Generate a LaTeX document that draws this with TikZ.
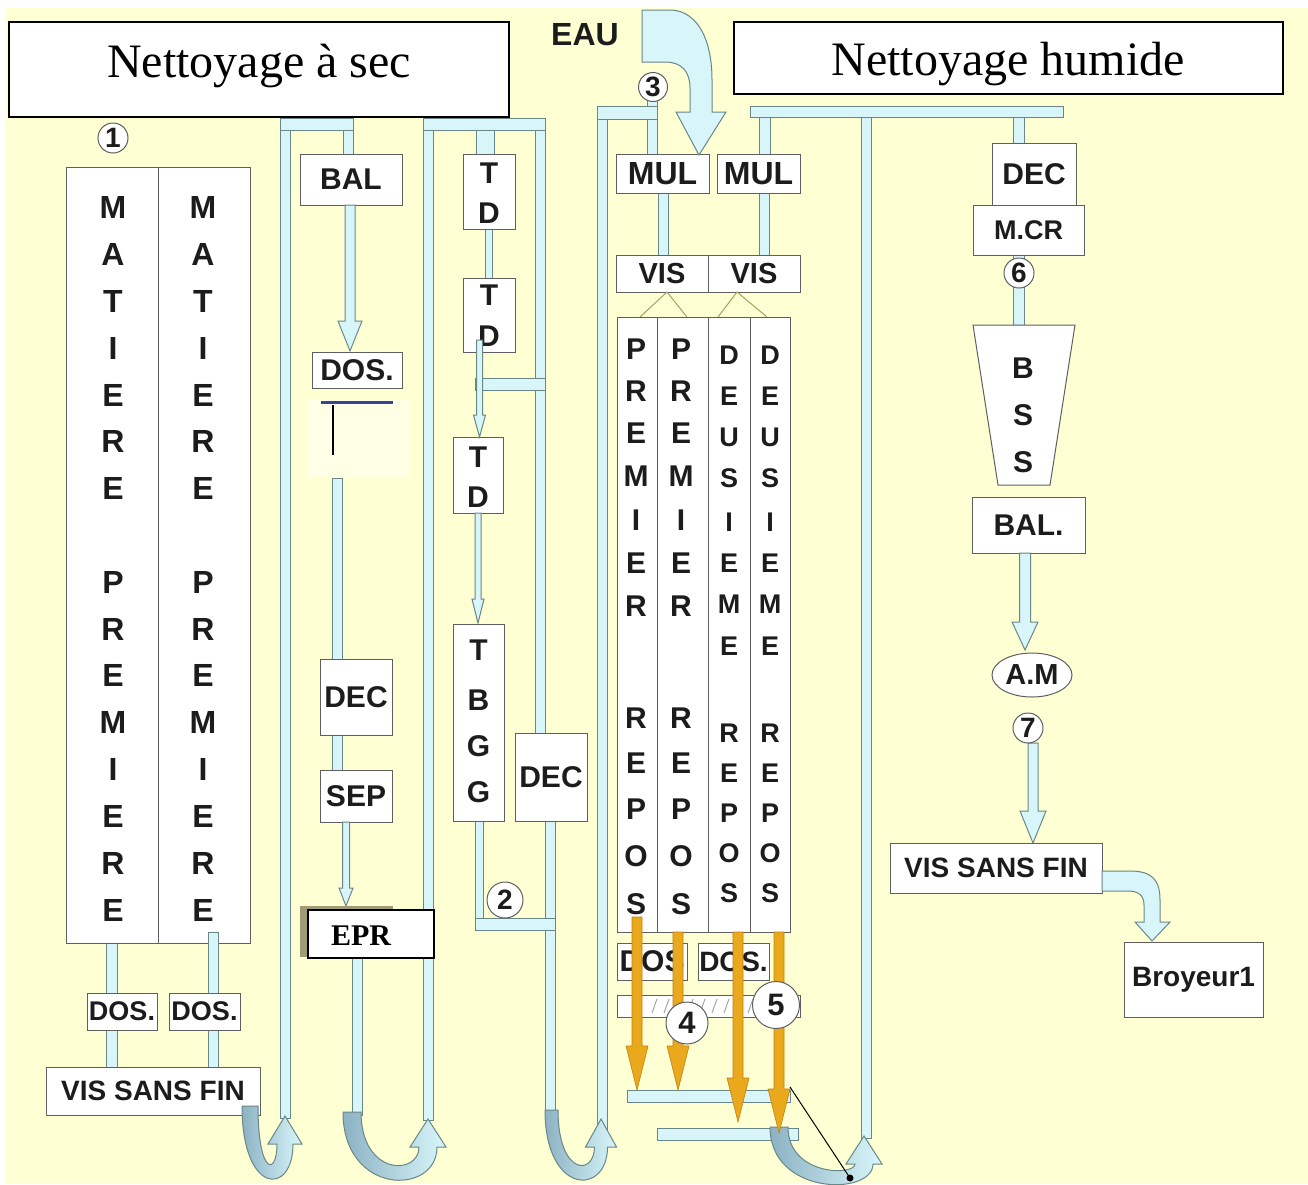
\documentclass[tikz,border=0pt]{standalone}
\usepackage{fontspec}
\setmainfont{Liberation Serif}
\setsansfont{Liberation Sans}
\usetikzlibrary{shapes.geometric}
\definecolor{bg}{RGB}{255,255,212}
\definecolor{bglight}{RGB}{255,255,230}
\definecolor{pipefill}{RGB}{216,246,250}
\definecolor{pipeline}{RGB}{105,135,135}
\definecolor{boxline}{RGB}{95,95,95}
\definecolor{txt}{RGB}{28,28,28}
\definecolor{orangeA}{RGB}{234,168,28}
\definecolor{orangeD}{RGB}{190,130,15}
\definecolor{udark}{RGB}{140,178,195}
\definecolor{navy}{RGB}{55,65,150}
\definecolor{shadowc}{RGB}{160,155,118}
\definecolor{olivel}{RGB}{165,160,95}
\newcommand\lblf[1]{\sffamily\bfseries\fontsize{#1}{#1}\selectfont}
\newcommand\pv[4]{\filldraw[pipe] ({#1-#4/2},#2) rectangle ({#1+#4/2},#3);}
\newcommand\ph[4]{\filldraw[pipe] (#1,{#3-#4/2}) rectangle (#2,{#3+#4/2});}
\newcommand\dnarrow[6]{\filldraw[pipe] ({#1-#4},#2) -- ({#1-#4},{#3-#6}) -- ({#1-#5},{#3-#6}) -- (#1,#3) -- ({#1+#5},{#3-#6}) -- ({#1+#4},{#3-#6}) -- ({#1+#4},#2) -- cycle;}
\newcommand\oarr[3]{\filldraw[orarr] ({#1-5},#2) -- ({#1-5},{#3-44}) -- ({#1-11},{#3-44}) -- (#1,#3) -- ({#1+11},{#3-44}) -- ({#1+5},{#3-44}) -- ({#1+5},#2) -- cycle;}
\newcommand\uarr[6]{\path[draw=pipeline, line width=1, left color=udark, right color=pipefill] (#1,#3) .. controls (#1,#6) and ({#4+#2/2},#6) .. ({#4+#2/2},{#5+28}) -- ({#4+#2/2+9},{#5+28}) -- (#4,#5) -- ({#4-#2/2-9},{#5+28}) -- ({#4-#2/2},{#5+28}) .. controls ({#4-#2/2},{#6-20}) and ({#1+#2},{#6-20}) .. ({#1+#2},#3) -- cycle;}
\tikzset{
 pipe/.style={fill=pipefill, draw=pipeline, line width=1},
 box/.style={rectangle, draw=boxline, fill=white, line width=1, inner sep=0pt, text=txt, font=\lblf{30}},
 ltr/.style={inner sep=0pt, text=txt, font=\lblf{#1}},
 ltr/.default=30,
 num/.style={circle, draw=boxline, fill=white, line width=1, inner sep=0pt, text=txt, font=\lblf{#1}},
 num/.default=28,
 orarr/.style={fill=orangeA, draw=orangeD, line width=0.6},
 titlebox/.style={draw=black, fill=white, line width=2}
}
\begin{document}
\begin{tikzpicture}[x=1pt,y=-1pt]
\useasboundingbox (0,0) rectangle (1308,1184);
\fill[white] (0,0) rectangle (1308,1184);
\fill[bg] (6,8) rectangle (1308,1184);
\fill[bglight] (308,400) rectangle (410,478);
% ---------- pipes ----------
\pv{112}{943}{993}{11}
\pv{112}{1030}{1067}{11}
\pv{213}{1030}{1067}{10}
\pv{285}{118}{1118}{10}
\pv{348}{124}{154}{10}
\ph{280}{353}{124}{12}
\pv{337}{478}{659}{10}
\pv{337}{735}{770}{10}
\pv{357}{958}{1115}{10}
\pv{428}{118}{1120}{10}
\pv{485}{124}{154}{18}
\pv{540}{124}{733}{10}
\ph{423}{545}{124}{12}
\pv{488.5}{229}{278}{7}
\ph{475}{545}{384}{12}
\pv{479}{821}{930}{8}
\pv{550}{821}{1112}{10}
\ph{475}{555}{924}{12}
\pv{602}{108}{1140}{10}
\pv{652}{100}{154}{10}
\ph{597}{657}{113}{13}
\pv{663}{193}{255}{10}
\pv{764}{193}{255}{10}
\pv{765}{112}{154}{11}
\pv{866}{112}{1138}{10}
\pv{1019}{112}{143}{11}
\ph{750}{1063}{112}{11}
\pv{1019}{255}{262}{11}
\pv{1019}{286}{325}{11}
\ph{627}{790}{1096}{12}
\ph{657}{798}{1134}{12}
% ---------- left : matiere premiere ----------
\node[box, minimum width=92, minimum height=776] (mp1) at (112,555) {};
\node[box, minimum width=92, minimum height=776] (mp2) at (204,555) {};
\foreach \c/\y [count=\i] in {M/207,A/254,T/301,I/348,E/395,R/441,E/488,P/582,R/629,E/675,M/722,I/769,E/816,R/863,E/910}{
 \node[ltr=32] (mpa\i) at (113,\y) {\c};
 \node[ltr=32] (mpb\i) at (203,\y) {\c};
}
\pv{213}{932}{993}{10}
\node[box, font=\lblf{27}, minimum width=70, minimum height=37] (dosa) at (122,1011.5) {DOS.};
\node[box, font=\lblf{27}, minimum width=71, minimum height=37] (dosb) at (204.5,1011.5) {DOS.};
\node[box, font=\lblf{28}, minimum width=214, minimum height=48] (visa) at (153,1091) {VIS SANS FIN};
% ---------- column 2 ----------
\node[box, minimum width=102, minimum height=51] (bal) at (351,179.5) {BAL};
\dnarrow{350}{205}{351}{5}{12}{30}
\node[box, minimum width=90, minimum height=36] (dosd) at (357,370) {DOS.};
\draw[navy, line width=3] (321,402) -- (393,402);
\draw[black, line width=1.5] (333,405) -- (333,455);
\node[box, minimum width=72, minimum height=76] (deca) at (356,697) {DEC};
\node[box, minimum width=72, minimum height=52] (sep) at (356,796) {SEP};
\dnarrow{346}{822}{906}{3.5}{7}{18}
\fill[shadowc] (300,906) rectangle (393,957);
\node[draw=black, fill=white, line width=2, minimum width=126, minimum height=48, inner sep=0pt] (epr) at (371,934) {};
\node[font=\fontsize{30}{30}\selectfont\bfseries, inner sep=0pt] (eprt) at (361,936) {EPR};
% ---------- column 3 ----------
\node[box, minimum width=52, minimum height=75] (td1) at (489,191.5) {};
\node[box, minimum width=52, minimum height=74] (td2) at (489,315) {};
\node[box, minimum width=50, minimum height=76] (td3) at (478,475) {};
\node[box, minimum width=51, minimum height=197] (tbgg) at (478.5,722.5) {};
\node[box, minimum width=72, minimum height=88] (decb) at (551,777) {DEC};
\node[ltr] (td1a) at (489,173) {T};
\node[ltr] (td1b) at (489,213) {D};
\node[ltr] (td2a) at (489,295) {T};
\node[ltr] (td2b) at (489,336) {D};
\node[ltr] (td3a) at (478,457) {T};
\node[ltr] (td3b) at (478,497) {D};
\foreach \c/\y [count=\i] in {T/650,B/700,G/746,G/792}{\node[ltr] (tb\i) at (478.5,\y) {\c};}
\dnarrow{479.5}{340}{437}{3}{6}{22}
\dnarrow{478}{513}{623}{3}{6}{24}
% ---------- column 4 ----------
\node[box, font=\lblf{32}, minimum width=93, minimum height=39] (mul1) at (662.5,173.5) {MUL};
\node[box, font=\lblf{32}, minimum width=83, minimum height=39] (mul2) at (758.5,173.5) {MUL};
\node[box, font=\lblf{29}, minimum width=92, minimum height=37] (vis1) at (662,273.5) {VIS};
\node[box, font=\lblf{29}, minimum width=92, minimum height=37] (vis2) at (754,273.5) {VIS};
\draw[olivel, line width=1] (640,317) -- (667,292) -- (687,317);
\draw[olivel, line width=1] (718,317) -- (737,292) -- (767,317);
\node[box, minimum width=40, minimum height=615] (rp1) at (637,624.5) {};
\node[box, minimum width=51, minimum height=615] (rp2) at (682.5,624.5) {};
\node[box, minimum width=42, minimum height=615] (rp3) at (729,624.5) {};
\node[box, minimum width=40, minimum height=615] (rp4) at (770,624.5) {};
\foreach \c/\y [count=\i] in {P/349,R/391,E/433,M/476,I/520,E/563,R/606,R/718,E/763,P/809,O/856,S/904}{
 \node[ltr=30] (pa\i) at (636,\y) {\c};
 \node[ltr=30] (pb\i) at (681,\y) {\c};
}
\foreach \c/\y [count=\i] in {D/355,E/396,U/437,S/478,I/522,E/563,M/604,E/646,R/733,E/773,P/813,O/853,S/893}{
 \node[ltr=27] (da\i) at (729,\y) {\c};
 \node[ltr=27] (db\i) at (770,\y) {\c};
}
\node[box, minimum width=70, minimum height=37] (dosw1) at (652,961.5) {DOS};
\node[box, font=\lblf{28}, minimum width=71, minimum height=37] (dosw2) at (733.5,961.5) {DOS.};
\filldraw[fill=white, draw=boxline, line width=1] (617,995) rectangle (800,1017);
\foreach \x in {652,664,...,748}{\draw[gray!70, line width=1] (\x,1013) -- (\x+5,999);}
% U arrows
\uarr{242}{16}{1106}{285}{1116}{1196}
\uarr{343}{18}{1112}{428}{1119}{1196}
\uarr{545}{13}{1110}{601}{1119}{1196}
\uarr{770}{18}{1127}{864}{1136}{1196}
% orange arrows
\oarr{637}{917}{1090}
\oarr{678}{932}{1090}
\oarr{738}{932}{1122}
\oarr{779}{932}{1133}
\draw[black, line width=1] (790,1087) -- (850,1178);
\fill[black] (850,1178) circle (3.5);
% ---------- right section ----------
\node[box, minimum width=84, minimum height=62] (decc) at (1034,174) {DEC};
\node[box, font=\lblf{27}, minimum width=111, minimum height=50] (mcr) at (1028.5,230) {M.CR};
\filldraw[fill=white, draw=boxline, line width=1] (973,325) -- (1075,325) -- (1050,485) -- (998,485) -- cycle;
\node[ltr] (bss1) at (1023,368) {B};
\node[ltr] (bss2) at (1023,415) {S};
\node[ltr] (bss3) at (1023,462) {S};
\node[box, minimum width=113, minimum height=56] (balr) at (1028.5,525) {BAL.};
\dnarrow{1025}{553}{650}{5.5}{13}{28}
\node[ellipse, draw=boxline, fill=white, line width=1, minimum width=80, minimum height=44, inner sep=0pt, font=\lblf{29}, text=txt] (am) at (1032,675) {A.M};
\dnarrow{1033}{743}{843}{5}{13}{32}
\node[box, font=\lblf{28}, minimum width=212, minimum height=50] (visr) at (996,868) {VIS SANS FIN};
\filldraw[pipe] (1102,871) -- (1130,871) .. controls (1152,871) and (1160,880) .. (1160,900) -- (1160,922) -- (1170,922) -- (1152,941) -- (1135,922) -- (1144,922) -- (1144,905) .. controls (1144,895) and (1138,891) .. (1128,891) -- (1102,891) -- cycle;
\node[box, font=\lblf{28}, minimum width=139, minimum height=75] (broy) at (1193.5,979.5) {Broyeur1};
% ---------- EAU ----------
\filldraw[pipe] (642,10) -- (672,10) .. controls (698,12) and (712,40) .. (712,80) -- (712,112) -- (726,112) -- (699,155) -- (676,112) -- (690,112) -- (690,88) .. controls (690,72) and (682,62) .. (665,62) -- (642,62) -- cycle;
\node[ltr=32] (eau) at (585,35) {EAU};
% ---------- numbers ----------
\node[num, minimum size=30] (n1) at (113,138) {1};
\node[num, minimum size=36] (n2) at (505,900) {2};
\node[num, minimum size=29] (n3) at (653,87) {3};
\node[num=31, minimum size=42] (n4) at (687,1023) {4};
\node[num=31, minimum size=47] (n5) at (776,1005) {5};
\node[num, minimum size=30] (n6) at (1019,273) {6};
\node[num, minimum size=30] (n7) at (1028,728) {7};
% ---------- titles ----------
\draw[titlebox] (9,22) rectangle (509,117);
\node[anchor=base, inner sep=0pt, font=\fontsize{48}{48}\selectfont] (tsec) at (259,77) {Nettoyage à sec};
\draw[titlebox] (734,22) rectangle (1283,94);
\node[anchor=base, inner sep=0pt, font=\fontsize{48}{48}\selectfont] (thum) at (1008,75) {Nettoyage humide};
\end{tikzpicture}
\end{document}
